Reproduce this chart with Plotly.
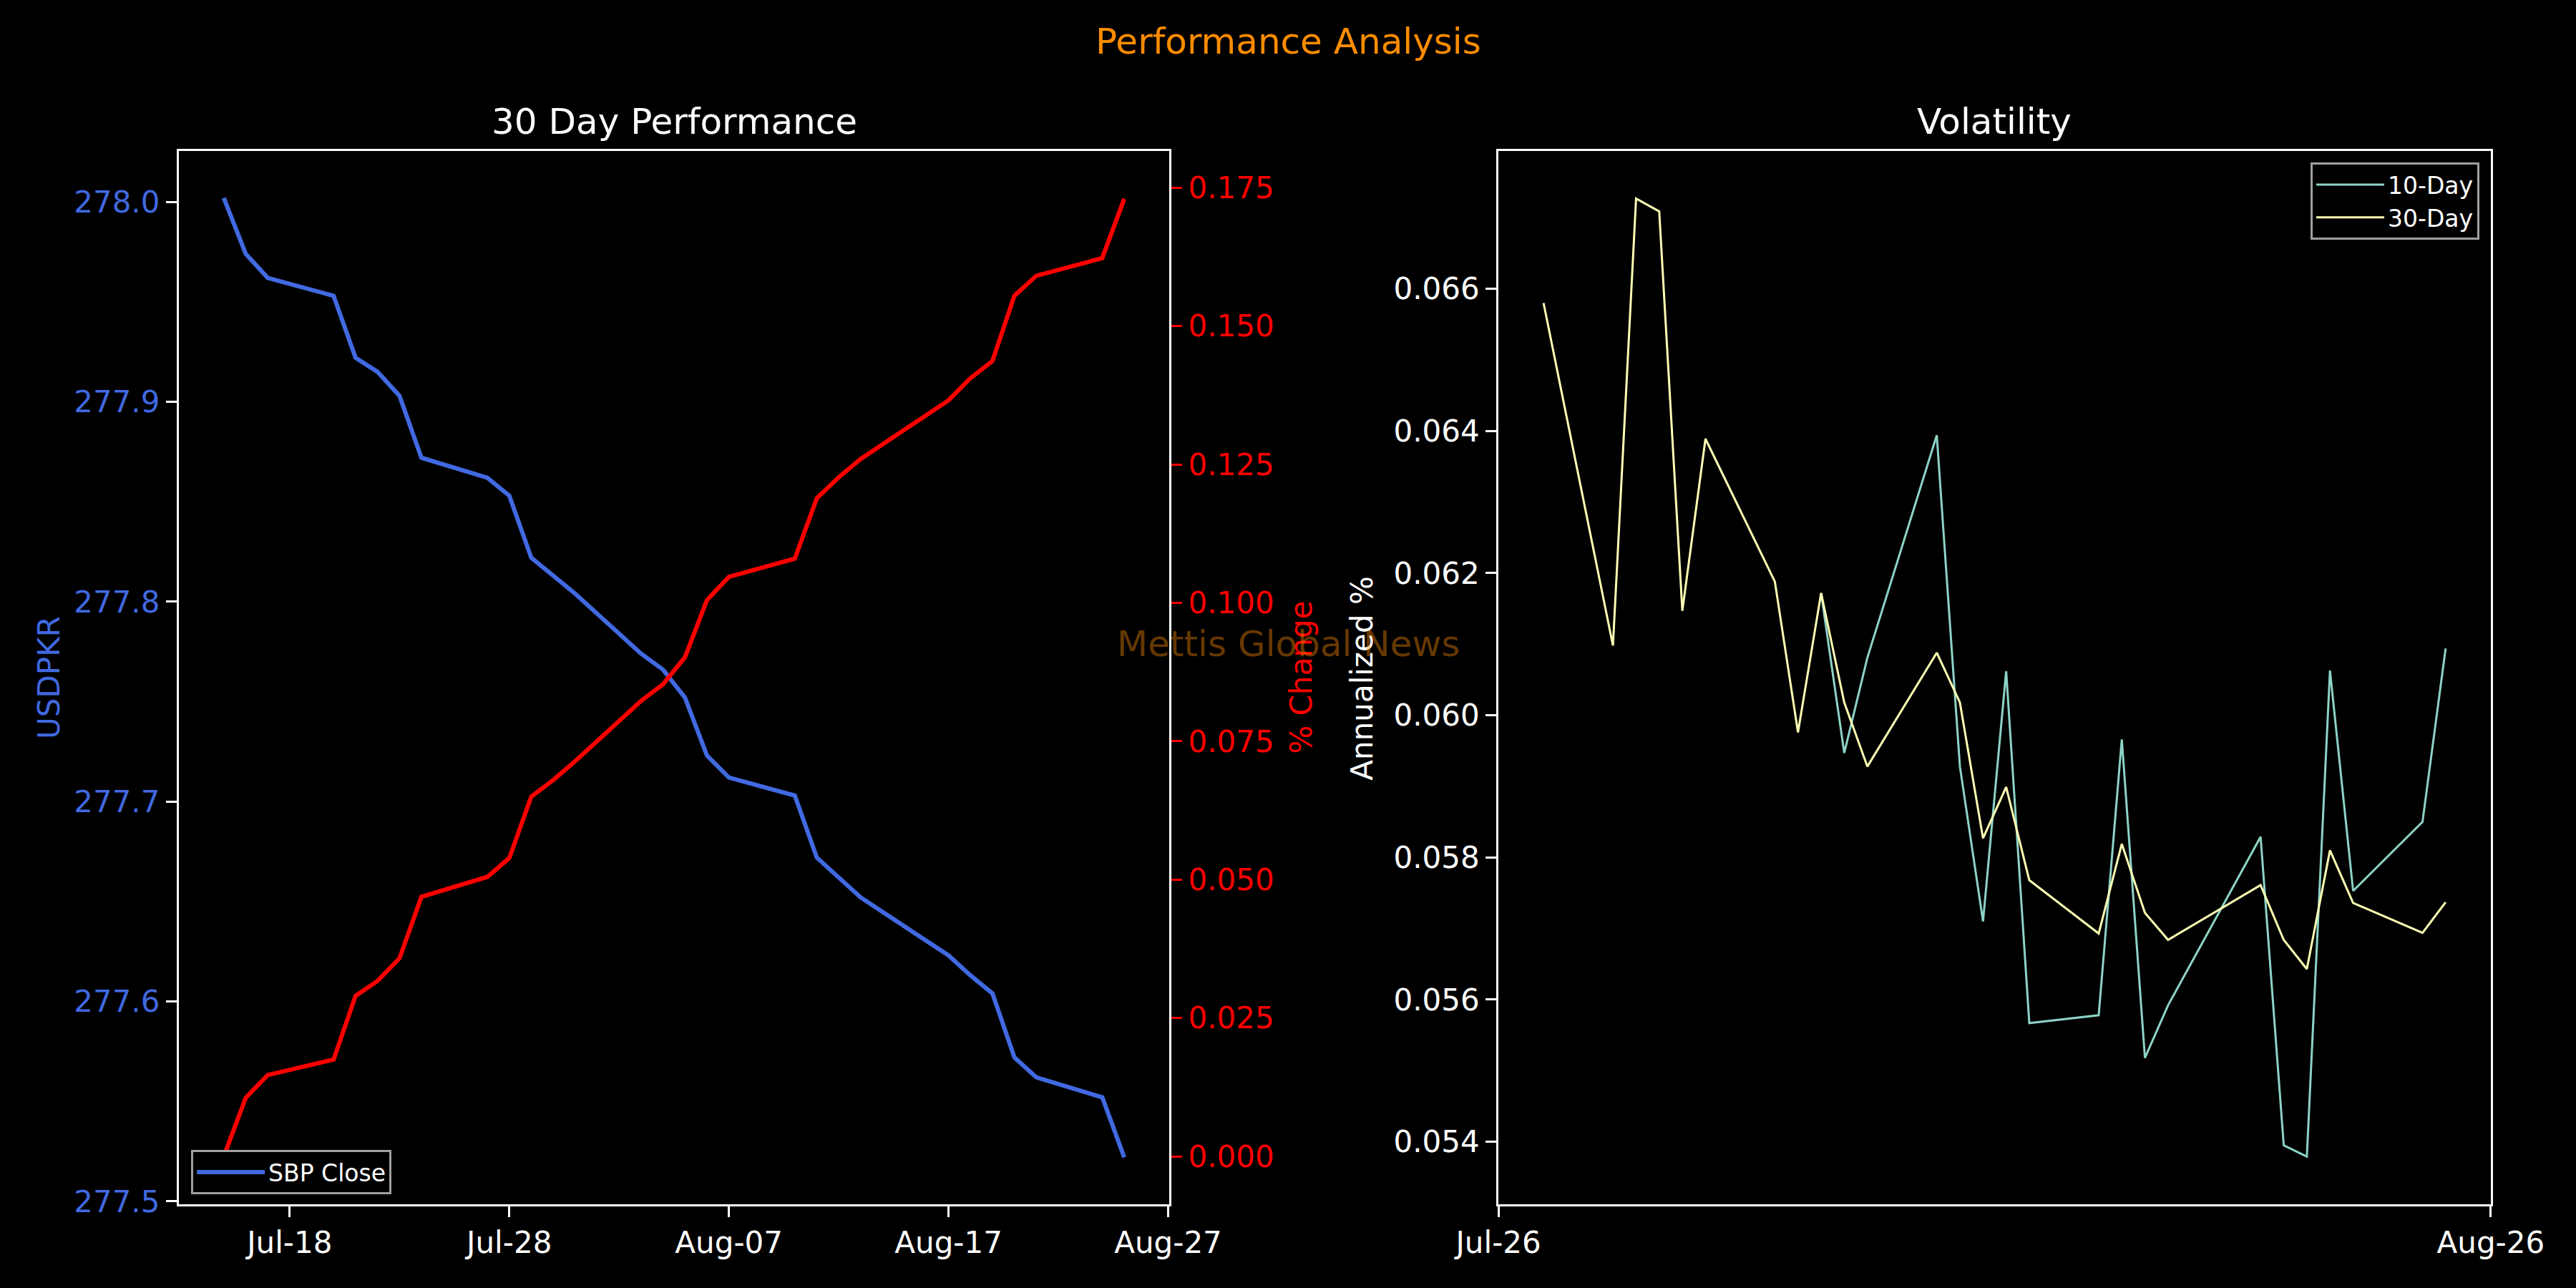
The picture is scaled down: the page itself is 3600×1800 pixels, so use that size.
import plotly.graph_objects as go

# business days, Jul 15 - Aug 25 2026 (Aug 14 holiday)
dates = ['2026-07-15', '2026-07-16', '2026-07-17', '2026-07-20', '2026-07-21', '2026-07-22',
         '2026-07-23', '2026-07-24', '2026-07-27', '2026-07-28', '2026-07-29', '2026-07-30',
         '2026-07-31', '2026-08-03', '2026-08-04', '2026-08-05', '2026-08-06', '2026-08-07',
         '2026-08-10', '2026-08-11', '2026-08-12', '2026-08-13', '2026-08-17', '2026-08-18',
         '2026-08-19', '2026-08-20', '2026-08-21', '2026-08-24', '2026-08-25']

sbp_close = [278.002, 277.974, 277.962, 277.953, 277.922, 277.915, 277.903, 277.872, 277.862,
             277.853, 277.822, 277.813, 277.804, 277.774, 277.766, 277.752, 277.723, 277.712,
             277.703, 277.672, 277.662, 277.652, 277.623, 277.613, 277.604, 277.572, 277.562,
             277.552, 277.522]

pct_change = [0.0, 0.0106, 0.0147, 0.0175, 0.0290, 0.0317, 0.0358, 0.0469, 0.0505, 0.0539,
              0.0650, 0.0680, 0.0714, 0.0823, 0.0853, 0.0902, 0.1005, 0.1047, 0.1080, 0.1189,
              0.1227, 0.1260, 0.1366, 0.1406, 0.1437, 0.1555, 0.1591, 0.1623, 0.1730]

vol_dates = dates[2:]
vol_10d = [None, None, None, None, None, None, None, None,
           0.06172, 0.05947, 0.06081, 0.06394, 0.05928, 0.05710, 0.06062, 0.05567, 0.05578,
           0.05966, 0.05518, 0.05592, 0.05829, 0.05395, 0.05379, 0.06063, 0.05753, 0.05850,
           0.06094]
vol_30d = [0.06580, 0.06098, 0.06727, 0.06709, 0.06147, 0.06389, 0.06188, 0.05976, 0.06172,
           0.06018, 0.05928, 0.06088, 0.06018, 0.05827, 0.05899, 0.05768, 0.05693, 0.05819,
           0.05722, 0.05684, 0.05761, 0.05684, 0.05643, 0.05810, 0.05736, 0.05694, 0.05737]

left_ticks = ['2026-07-18', '2026-07-28', '2026-08-07', '2026-08-17', '2026-08-27']
right_range = ['2026-07-15 01:12', '2026-08-26 22:48']
right_ticktext = ['Jul-26', 'Aug-26']

FONT = 'DejaVu Sans'
TICK = 42
WHITE = '#ffffff'
BLUE = '#4169e1'

fig = go.Figure()
fig.add_trace(go.Scatter(x=dates, y=sbp_close, mode='lines', name='SBP Close',
                         line=dict(color=BLUE, width=6), xaxis='x', yaxis='y', legend='legend'))
fig.add_trace(go.Scatter(x=dates, y=pct_change, mode='lines', name='% Change', showlegend=False,
                         line=dict(color='#ff0000', width=6), xaxis='x', yaxis='y2'))
fig.add_trace(go.Scatter(x=vol_dates, y=vol_10d, mode='lines', name='10-Day',
                         line=dict(color='#8dd3c7', width=3), xaxis='x2', yaxis='y3',
                         legend='legend2'))
fig.add_trace(go.Scatter(x=vol_dates, y=vol_30d, mode='lines', name='30-Day',
                         line=dict(color='#feffb3', width=3), xaxis='x2', yaxis='y3',
                         legend='legend2'))

axis_common = dict(showgrid=False, zeroline=False, showline=True, linecolor=WHITE, linewidth=3,
                   ticks='outside', ticklen=15, tickwidth=3, tickcolor=WHITE,
                   tickfont=dict(family=FONT, size=TICK, color=WHITE))

ydom = [0.065, 0.8828]
fig.update_layout(
    width=3600, height=1800,
    paper_bgcolor='#000000', plot_bgcolor='#000000',
    font=dict(family=FONT, color=WHITE),
    margin=dict(l=0, r=0, t=0, b=0, autoexpand=False),
    xaxis=dict(axis_common, domain=[0.0694, 0.4539], anchor='y', type='date',
               range=['2026-07-12 22:48', '2026-08-27 01:12'], tickvals=left_ticks,
               tickformat='%b-%d', mirror=True),
    yaxis=dict(axis_common, domain=ydom, anchor='x', range=[277.4985, 278.0255],
               tick0=277.5, dtick=0.1, tickformat='.1f', mirror=True,
               tickfont=dict(family=FONT, size=TICK, color=BLUE)),
    yaxis2=dict(axis_common, overlaying='y', side='right', anchor='x',
                range=[-0.00865, 0.18165], tick0=0, dtick=0.025, tickformat='.3f',
                tickcolor='#ff0000', tickfont=dict(family=FONT, size=TICK, color='#ff0000')),
    xaxis2=dict(axis_common, domain=[0.5817, 0.9669], anchor='y3', type='date',
                range=right_range, tickvals=right_range, ticktext=right_ticktext, mirror=True),
    yaxis3=dict(axis_common, domain=ydom, anchor='x2', range=[0.05312, 0.06794],
                tick0=0.054, dtick=0.002, tickformat='.3f', mirror=True),
    legend=dict(x=0.0742, y=0.1072, xanchor='left', yanchor='top', bgcolor='#000000',
                bordercolor='#a0a0a0', borderwidth=3, itemwidth=95,
                font=dict(family=FONT, size=33, color=WHITE)),
    legend2=dict(x=0.9625, y=0.8739, xanchor='right', yanchor='top', bgcolor='#000000',
                 bordercolor='#a0a0a0', borderwidth=3, itemwidth=95, tracegroupgap=6,
                 font=dict(family=FONT, size=33, color=WHITE)),
)

annotations = [
    dict(text='Performance Analysis', x=0.5, y=0.968, font=dict(size=50, color='#ff8c00')),
    dict(text='30 Day Performance', x=0.2617, y=0.9056, font=dict(size=50, color=WHITE)),
    dict(text='Volatility', x=0.7743, y=0.9056, font=dict(size=50, color=WHITE)),
    dict(text='USDPKR', x=0.0192, y=0.474, textangle=-90, font=dict(size=TICK, color=BLUE)),
    dict(text='% Change', x=0.5052, y=0.474, textangle=-90, font=dict(size=TICK, color='#ff0000')),
    dict(text='Annualized %', x=0.5289, y=0.473, textangle=-90, font=dict(size=TICK, color=WHITE)),
    dict(text='Mettis Global News', x=0.5, y=0.5, font=dict(size=50, color='rgba(255,140,0,0.4)')),
]
for a in annotations:
    a.update(xref='paper', yref='paper', xanchor='center', yanchor='middle', showarrow=False)
    a['font']['family'] = FONT
fig.update_layout(annotations=annotations)

fig.write_html('out.html', config={'displayModeBar': False},
               post_script="document.body.style.margin='0';"
                           "document.body.style.background='#000';")
